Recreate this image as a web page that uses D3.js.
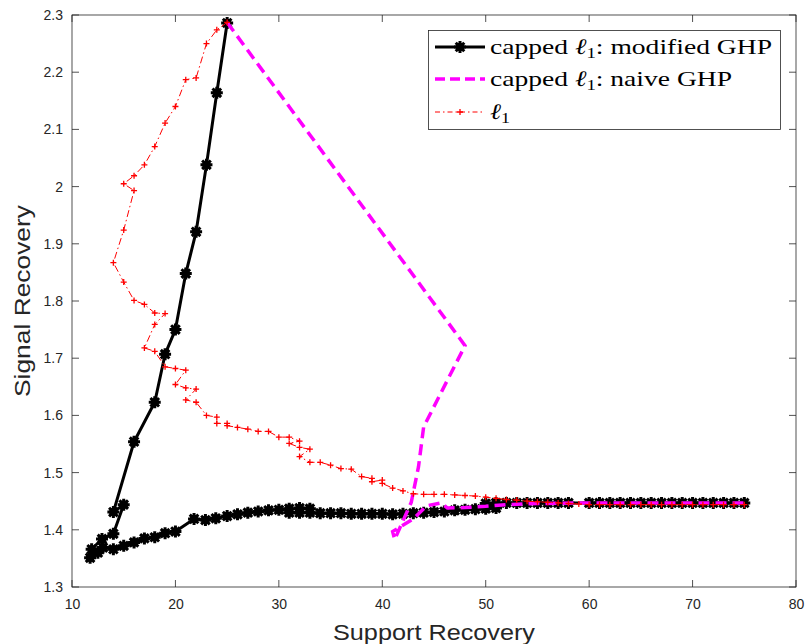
<!DOCTYPE html>
<html><head><meta charset="utf-8">
<script src="https://cdn.jsdelivr.net/npm/d3@7"></script>
<style>body{margin:0;background:#fff}svg{display:block}</style>
</head><body>
<svg id="chart" width="805" height="644"></svg>
<script>
// ---- data ----
const xTicks = [10, 20, 30, 40, 50, 60, 70, 80];
const yTicks = [1.3, 1.4, 1.5, 1.6, 1.7, 1.8, 1.9, 2.0, 2.1, 2.2, 2.3];

const seriesNames = ["capped \u2113_1: modified GHP", "capped \u2113_1: naive GHP", "\u2113_1"];

const modifiedX = [25, 24, 23, 22, 21, 20, 19, 18, 16, 14, 15, 14, 12.9, 11.9, 11.75, 12.5, 13, 14, 15, 16, 17, 18, 19, 20,
  21.8, 22.9, 23.9, 25, 26, 27, 28, 29, 30, 31, 31, 32, 32, 33, 33, 34, 35, 36, 37, 38, 39, 40, 41, 42, 43, 44, 45, 46, 47, 48, 49, 50, 51,
  50, 51, 52, 53, 54, 55, 56, 57, 58, 60, 61, 62, 63, 64, 65, 66, 67, 68, 69, 70, 71, 72, 73, 74, 75];
const modifiedY = [2.286, 2.164, 2.038, 1.921, 1.848, 1.75, 1.707, 1.623, 1.554, 1.431, 1.444, 1.393, 1.384, 1.366, 1.351, 1.36, 1.369, 1.366, 1.372, 1.378, 1.385, 1.387, 1.394, 1.397,
  1.419, 1.417, 1.42, 1.424, 1.427, 1.43, 1.432, 1.434, 1.435, 1.437, 1.43, 1.43, 1.438, 1.437, 1.43, 1.429, 1.429, 1.429, 1.428, 1.428, 1.428, 1.428, 1.427, 1.428, 1.429, 1.43, 1.431, 1.432, 1.434, 1.435, 1.436, 1.437, 1.438,
  1.446, 1.447, 1.447, 1.447, 1.447, 1.447, 1.447, 1.447, 1.447, 1.447, 1.447, 1.447, 1.447, 1.447, 1.447, 1.447, 1.447, 1.447, 1.447, 1.447, 1.447, 1.447, 1.447, 1.447, 1.447];

const naiveX = [25, 48, 44, 43.5, 42.8, 41.2, 41, 43, 44.3, 45.7, 46.3, 48, 50, 52, 55, 60, 65, 70, 75];
const naiveY = [2.287, 1.722, 1.58, 1.51, 1.448, 1.383, 1.397, 1.419, 1.442, 1.447, 1.438, 1.439, 1.441, 1.444, 1.446, 1.447, 1.447, 1.447, 1.447];

const l1X = [25, 24, 23, 22, 21, 20, 19, 18, 17, 16, 15, 16, 15, 14, 15, 16, 17, 18, 19, 18, 17, 18, 19, 20, 21, 20, 21, 22, 21, 22, 23, 24, 24, 25, 25, 26, 27, 28, 29, 30, 31, 32, 31, 32, 33, 32, 33, 34, 35, 36, 37, 38, 39, 39, 40, 40, 41, 42, 43,
  44, 45, 46, 47, 48, 49, 50, 51, 52, 53, 54, 55, 56, 57, 58, 59, 60, 61, 62, 63, 64, 65, 66, 67, 68, 69, 70, 71, 72, 73, 74, 75];
const l1Y = [2.287, 2.274, 2.25, 2.19, 2.187, 2.14, 2.111, 2.07, 2.038, 2.019, 2.005, 1.993, 1.924, 1.867, 1.833, 1.801, 1.794, 1.779, 1.778, 1.759, 1.718, 1.712, 1.685, 1.682, 1.679, 1.654, 1.648, 1.646, 1.627, 1.623, 1.6, 1.597, 1.586, 1.586, 1.582, 1.579, 1.576, 1.572, 1.572, 1.562, 1.562, 1.555, 1.551, 1.544, 1.541, 1.528, 1.518, 1.518, 1.513, 1.507, 1.506, 1.493, 1.49, 1.484, 1.487, 1.481, 1.473, 1.468, 1.463,
  1.462, 1.462, 1.462, 1.461, 1.46, 1.459, 1.457, 1.455, 1.453, 1.452, 1.45, 1.449, 1.448, 1.447, 1.446, 1.445, 1.444, 1.444, 1.444, 1.444, 1.444, 1.444, 1.444, 1.444, 1.444, 1.444, 1.444, 1.444, 1.444, 1.444, 1.444, 1.444];

// ---- layout ----
const svg = d3.select("#chart");
const L = 72, R = 796, T = 15, B = 587;
const axisColor = "#262626";
const x = d3.scaleLinear().domain([10, 80]).range([L, R]);
const y = d3.scaleLinear().domain([1.3, 2.3]).range([B, T]);
const fmt = d => String(+d.toFixed(1));

// tick labels via axes
const gx = svg.append("g").attr("transform", `translate(0,${B})`)
  .call(d3.axisBottom(x).tickValues(xTicks).tickFormat(fmt).tickSize(0).tickPadding(12));
const gy = svg.append("g").attr("transform", `translate(${L},0)`)
  .call(d3.axisLeft(y).tickValues(yTicks).tickFormat(fmt).tickSize(0).tickPadding(9));
[gx, gy].forEach(g => {
  g.select(".domain").remove();
  g.selectAll("text").attr("font-family", "Liberation Sans, Arial, sans-serif").attr("font-size", 14).attr("fill", axisColor);
});

// inward ticks on all four sides
const tl = 7;
const ticks = svg.append("g").attr("stroke", axisColor).attr("stroke-width", 0.8);
xTicks.forEach(v => {
  ticks.append("line").attr("x1", x(v)).attr("x2", x(v)).attr("y1", B).attr("y2", B - tl);
  ticks.append("line").attr("x1", x(v)).attr("x2", x(v)).attr("y1", T).attr("y2", T + tl);
});
yTicks.forEach(v => {
  ticks.append("line").attr("y1", y(v)).attr("y2", y(v)).attr("x1", L).attr("x2", L + tl);
  ticks.append("line").attr("y1", y(v)).attr("y2", y(v)).attr("x1", R).attr("x2", R - tl);
});
svg.append("rect").attr("x", L).attr("y", T).attr("width", R - L).attr("height", B - T)
  .attr("fill", "none").attr("stroke", axisColor).attr("stroke-width", 0.8);

// axis titles
svg.append("text").attr("x", (L + R) / 2).attr("y", 640).attr("text-anchor", "middle")
  .attr("font-family", "Liberation Sans, Arial, sans-serif").attr("font-size", 22).attr("fill", axisColor)
  .attr("textLength", 202).attr("lengthAdjust", "spacingAndGlyphs").text("Support Recovery");
svg.append("text").attr("transform", `translate(30,${(T + B) / 2}) rotate(-90)`).attr("text-anchor", "middle")
  .attr("font-family", "Liberation Sans, Arial, sans-serif").attr("font-size", 22).attr("fill", axisColor)
  .attr("textLength", 192).attr("lengthAdjust", "spacingAndGlyphs").text("Signal Recovery");

// ---- series ----
const line = d3.line().x(d => x(d[0])).y(d => y(d[1]));
const modData = modifiedX.map((v, i) => [v, modifiedY[i]]);
const naiveData = naiveX.map((v, i) => [v, naiveY[i]]);
const l1Data = l1X.map((v, i) => [v, l1Y[i]]);

const asteriskPath = "M-6,0H6M0,-6V6M-4.3,-4.3L4.3,4.3M-4.3,4.3L4.3,-4.3";
const plusPath = "M-3,0H3M0,-3V3";

function drawAsterisk(g, cx, cy) {
  const m = g.append("g").attr("transform", `translate(${cx},${cy})`);
  m.append("path").attr("d", asteriskPath).attr("stroke", "#000").attr("stroke-width", 3).attr("fill", "none");
  m.append("circle").attr("r", 4.3).attr("fill", "#000");
}
function drawPlus(g, cx, cy) {
  g.append("path").attr("transform", `translate(${cx},${cy})`).attr("d", plusPath)
    .attr("stroke", "#ff0000").attr("stroke-width", 1.3).attr("fill", "none");
}

const plot = svg.append("g");
// modified GHP (black)
plot.append("path").datum(modData).attr("d", line).attr("fill", "none").attr("stroke", "#000")
  .attr("stroke-width", 3).attr("stroke-linejoin", "round");
const mk = plot.append("g");
modData.forEach(d => drawAsterisk(mk, x(d[0]), y(d[1])));

// naive GHP (magenta)
plot.append("path").datum(naiveData).attr("d", line).attr("fill", "none").attr("stroke", "#ff00ff")
  .attr("stroke-width", 3.5).attr("stroke-dasharray", "11,6");

// l1 (red)
plot.append("path").datum(l1Data).attr("d", line).attr("fill", "none").attr("stroke", "#ff0000")
  .attr("stroke-width", 1).attr("stroke-dasharray", "7,3,1.5,3");
const pk = plot.append("g");
l1Data.forEach(d => drawPlus(pk, x(d[0]), y(d[1])));

// ---- legend ----
const lg = svg.append("g");
lg.append("rect").attr("x", 428.5).attr("y", 30.5).attr("width", 352).attr("height", 99)
  .attr("fill", "#fff").attr("stroke", axisColor).attr("stroke-width", 0.8);
const rowsY = [47, 79, 112];
const textW = [282, 242, 20];
const styles = [
  {stroke: "#000", w: 3, dash: null},
  {stroke: "#ff00ff", w: 3.5, dash: "10,5"},
  {stroke: "#ff0000", w: 1, dash: "5,3,1.5,3"}
];
rowsY.forEach((ry, i) => {
  const s = styles[i];
  const ln = lg.append("line").attr("x1", 435).attr("x2", 485).attr("y1", ry).attr("y2", ry)
    .attr("stroke", s.stroke).attr("stroke-width", s.w);
  if (s.dash) ln.attr("stroke-dasharray", s.dash);
  if (i === 0) drawAsterisk(lg, 460, ry);
  if (i === 2) drawPlus(lg, 460, ry);
  const parts = seriesNames[i].split("\u2113_1");
  const t = lg.append("text").attr("x", 490).attr("y", ry + 7)
    .attr("font-family", "Liberation Serif, DejaVu Serif, serif").attr("font-size", 22).attr("fill", "#000")
    .attr("textLength", textW[i]).attr("lengthAdjust", "spacingAndGlyphs");
  t.append("tspan").text(parts[0]);
  t.append("tspan").attr("font-style", "italic").text("\u2113");
  t.append("tspan").attr("font-size", 15).attr("dy", 4).text("1");
  if (parts[1]) t.append("tspan").attr("dy", -4).text(parts[1]);
});
</script>
</body></html>
